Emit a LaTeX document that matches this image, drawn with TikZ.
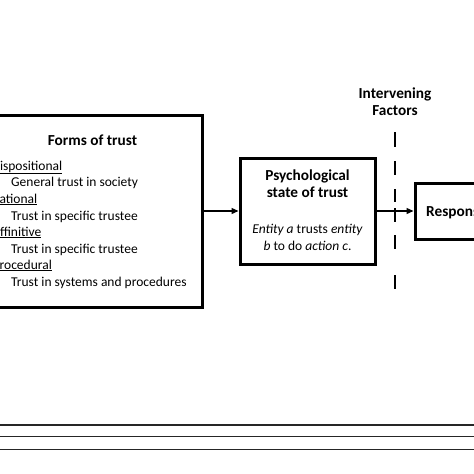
\documentclass[tikz,border=0pt]{standalone}
\usepackage{fontspec}
\setmainfont{Carlito}
\usetikzlibrary{arrows.meta}
\tikzset{
  box/.style={draw=black, line width=3pt, inner sep=0pt, fill=white},
  txt/.style={inner sep=0pt, font=\fontsize{13.5}{16}\selectfont},
  btxt/.style={inner sep=0pt, font=\fontsize{15.3}{18}\selectfont\bfseries},
  conn/.style={line width=1.3pt, -{Triangle[length=7pt,width=6pt]}},
  rule/.style={line width=1.4pt, draw=black!85}
}
\begin{document}
\begin{tikzpicture}[x=1pt,y=-1pt]
\useasboundingbox (0,0) rectangle (474,474);
\clip (0,0) rectangle (474,474);
% boxes
\node[box, minimum width=222pt, minimum height=192pt] (forms) at (91,211) {};
\node[box, minimum width=135pt, minimum height=106pt] (psych) at (307.5,211) {};
\node[box, minimum width=110pt, minimum height=56pt] (resp) at (470,211) {};
% forms text
\node[btxt, anchor=base] (ftitle) at (92.5,145) {Forms of trust};
\node[txt, anchor=base west] (f1) at (-8.5,170) {\underline{Dispositional}};
\node[txt, anchor=base west] (f1a) at (11,186.5) {General trust in society};
\node[txt, anchor=base west] (f2) at (-8,203) {\underline{Rational}};
\node[txt, anchor=base west] (f2a) at (11,220) {Trust in specific trustee};
\node[txt, anchor=base west] (f3) at (-8,236) {\underline{Affinitive}};
\node[txt, anchor=base west] (f3a) at (11,253) {Trust in specific trustee};
\node[txt, anchor=base west] (f4) at (-7.5,269) {\underline{Procedural}};
\node[txt, anchor=base west] (f4a) at (11,286.5) {Trust in systems and procedures};
% psych text
\node[btxt, anchor=base] (p1) at (307.5,180) {Psychological};
\node[btxt, anchor=base] (p2) at (307.5,197) {state of trust};
\node[txt, anchor=base] (p3) at (307.5,233) {\textit{Entity a} trusts \textit{entity}};
\node[txt, anchor=base] (p4) at (307.5,250) {\textit{b} to do \textit{action c}.};
% response
\node[btxt, anchor=base west] (r1) at (426,216) {Response};
% intervening
\node[btxt, anchor=base] (i1) at (395,98) {Intervening};
\node[btxt, anchor=base] (i2) at (395,115) {Factors};
\coordinate (dtop) at (395,132);
\coordinate (dbot) at (395,289);
\draw[line width=2.6pt, dash pattern=on 15pt off 14pt on 14pt off 14pt on 13pt off 6pt on 14pt off 13pt on 14pt off 26pt on 14pt] (dtop) -- (dbot);
% connectors
\draw[conn] (forms.east) -- (psych.west);
\draw[conn] (psych.east) -- (resp.west);
% bottom rules
\coordinate (l1a) at (0,424.5); \coordinate (l1b) at (474,424.5);
\coordinate (l2a) at (0,436.5); \coordinate (l2b) at (474,436.5);
\coordinate (l3a) at (0,449.5); \coordinate (l3b) at (474,449.5);
\draw[rule, line width=2pt] (l1a) -- (l1b);
\draw[rule] (l2a) -- (l2b);
\draw[rule] (l3a) -- (l3b);
\end{tikzpicture}
\end{document}
